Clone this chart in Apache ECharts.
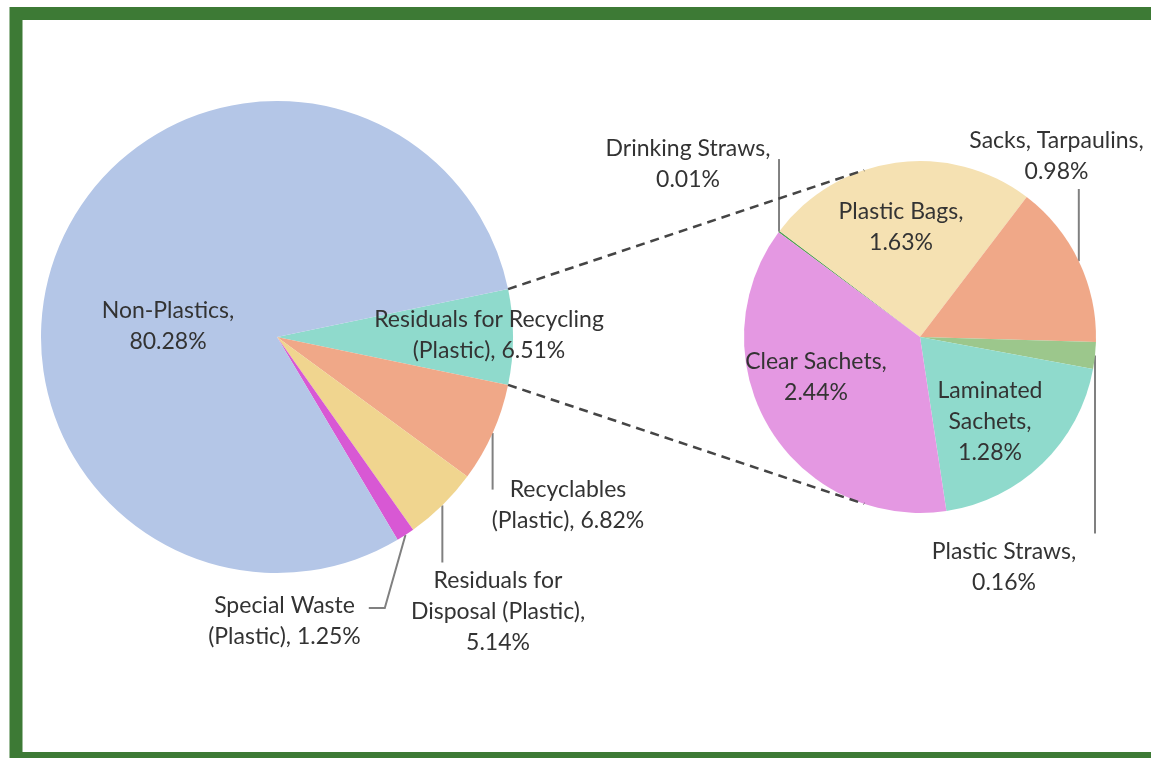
<!DOCTYPE html>
<html>
<head>
<meta charset="utf-8">
<script src="https://cdn.jsdelivr.net/npm/echarts@6/dist/echarts.min.js"></script>
<style>
  html, body { margin: 0; padding: 0; background: #ffffff; }
  #chart { width: 1151px; height: 758px; }
</style>
</head>
<body>
<div id="chart"></div>
<script>
// Overall waste composition, percent of total
const mainNames = [
  'Residuals for Recycling (Plastic)',
  'Recyclables (Plastic)',
  'Residuals for Disposal (Plastic)',
  'Special Waste (Plastic)',
  'Non-Plastics'
];
const mainValues = [6.51, 6.82, 5.14, 1.25, 80.28];

// Breakdown of the residuals for recycling, percent of total
const subNames = [
  'Drinking Straws',
  'Plastic Bags',
  'Sacks, Tarpaulins',
  'Plastic Straws',
  'Laminated Sachets',
  'Clear Sachets'
];
const subValues = [0.01, 1.63, 0.98, 0.16, 1.28, 2.44];

// ---- styling and layout ----
const mainColors = ['#8fdacc', '#f0a888', '#f0d58f', '#d858d4', '#b4c6e7'];
const subColors = ['#4f9f4f', '#f5e1b2', '#f0a888', '#9cc78c', '#8fdacc', '#e498e2'];

const FONT = 'Lato, "Open Sans", sans-serif';
const FONT_SIZE = 23;
const LINE_H = 31;
const TEXT_COLOR = '#333333';
const LEADER_COLOR = '#808080';

const MAIN = { cx: 277, cy: 337, r: 236 };
const SUB = { cx: 920, cy: 337, r: 176, startAngle: 143.5 };
// the split slice (first item) is centred on the 3 o'clock direction
const mainTotal = mainValues.reduce((a, b) => a + b, 0);
MAIN.startAngle = mainValues[0] / mainTotal * 360 / 2;

// label placement: offset of the label centre from the pie centre,
// words per line, and how the leader line reaches the label
const mainLabelLayout = [
  { dx: 212, dy: -2, wrap: [3, 2], pos: 'inside' },
  { dx: 291, dy: 168, wrap: [1, 2], pos: 'outside', leader: { mode: 'v', f: 0.3 } },
  { dx: 221, dy: 275, wrap: [2, 2, 1], pos: 'outside', leader: { mode: 'v', f: 0 } },
  { dx: 7.5, dy: 284.5, wrap: [2, 2], pos: 'outside', leader: { mode: 'side' } },
  { dx: -109, dy: -11, wrap: [1, 1], pos: 'inside' }
];
const subLabelLayout = [
  { dx: -232, dy: -172.5, wrap: [2, 1], pos: 'outside', leader: { mode: 'v', f: 0.38 } },
  { dx: -19, dy: -109.5, wrap: [2, 1], pos: 'inside' },
  { dx: 136.5, dy: -181, wrap: [2, 1], pos: 'outside', leader: { mode: 'v', f: 1 } },
  { dx: 84, dy: 230.5, wrap: [2, 1], pos: 'outside', leader: { mode: 'v', f: 0 } },
  { dx: 70, dy: 84.5, wrap: [1, 1, 1], pos: 'inside' },
  { dx: -104, dy: 40.5, wrap: [2, 1], pos: 'inside' }
];

function labelText(name, value, wrap) {
  const words = (name + ', ' + value.toFixed(2) + '%').split(' ');
  const lines = [];
  let k = 0;
  wrap.forEach(n => { lines.push(words.slice(k, k + n).join(' ')); k += n; });
  return lines.join('\n');
}

function buildData(names, values, colors, layout) {
  return names.map((name, i) => ({
    name: name,
    value: values[i],
    itemStyle: { color: colors[i] },
    label: { position: layout[i].pos },
    labelLine: { show: !!layout[i].leader }
  }));
}

// places every label and draws its leader from the rim at the slice's mid angle
function makeLabelLayout(geo, values, layout) {
  const total = values.reduce((a, b) => a + b, 0);
  return function (params) {
    const idx = params.dataIndex;
    const L = layout[idx];
    const x = geo.cx + L.dx;
    const y = geo.cy + L.dy;
    const out = { x: x, y: y, align: 'center', verticalAlign: 'middle' };
    if (L.leader) {
      let cum = 0;
      for (let i = 0; i < idx; i++) cum += values[i];
      const mid = (geo.startAngle - (cum + values[idx] / 2) / total * 360) * Math.PI / 180;
      const ax = geo.cx + geo.r * Math.cos(mid);
      const ay = geo.cy - geo.r * Math.sin(mid);
      const h = L.wrap.length * LINE_H;
      const w = params.labelRect.width;
      const top = y - h / 2;
      if (L.leader.mode === 'v') {
        let ey = top + L.leader.f * h;
        ey += ey > ay ? -3 : 2;
        out.labelLinePoints = [[ax, ay], [ax, (ay + ey) / 2], [ax, ey]];
      } else {
        const right = x + w / 2;
        const ly = top + LINE_H / 2 + 2;
        out.labelLinePoints = [[ax, ay], [right + 24, ly], [right + 8, ly]];
      }
    }
    return out;
  };
}

function pieSeries(geo, names, values, colors, layout) {
  return {
    type: 'pie',
    center: [geo.cx, geo.cy],
    radius: [0, geo.r],
    startAngle: geo.startAngle,
    clockwise: true,
    avoidLabelOverlap: false,
    silent: true,
    animation: false,
    itemStyle: { borderWidth: 0 },
    label: {
      show: true,
      color: TEXT_COLOR,
      fontFamily: FONT,
      fontSize: FONT_SIZE,
      lineHeight: LINE_H,
      textBorderWidth: 0,
      formatter: p => labelText(p.name, p.value, layout[p.dataIndex].wrap)
    },
    labelLine: {
      lineStyle: { color: LEADER_COLOR, width: 2 },
      length: 10,
      length2: 10
    },
    labelLayout: makeLabelLayout(geo, values, layout),
    emphasis: { disabled: true },
    data: buildData(names, values, colors, layout)
  };
}

// dashed connectors: from the split slice edges to the tangents of the second pie
function connectors() {
  const half = MAIN.startAngle * Math.PI / 180;
  const lines = [];
  [1, -1].forEach(sgn => {
    const px = MAIN.cx + MAIN.r * Math.cos(half);
    const py = MAIN.cy - sgn * MAIN.r * Math.sin(half);
    const vx = px - SUB.cx, vy = SUB.cy - py;
    const d = Math.hypot(vx, vy);
    const base = Math.atan2(vy, vx);
    const t = base - sgn * Math.acos(SUB.r / d);
    const qx = SUB.cx + SUB.r * Math.cos(t);
    const qy = SUB.cy - SUB.r * Math.sin(t);
    lines.push({
      type: 'line',
      silent: true,
      z: 10,
      shape: { x1: px, y1: py, x2: qx, y2: qy },
      style: { stroke: '#454545', lineWidth: 2.5, lineDash: [9, 6] }
    });
  });
  return lines;
}

const chart = echarts.init(document.getElementById('chart'), null, { renderer: 'canvas' });
chart.setOption({
  backgroundColor: '#ffffff',
  animation: false,
  graphic: [
    {
      type: 'rect',
      silent: true,
      z: 0,
      shape: { x: 16, y: 13.5, width: 1200, height: 745 },
      style: { fill: 'none', stroke: '#3d7a35', lineWidth: 13 }
    }
  ].concat(connectors()),
  series: [
    pieSeries(MAIN, mainNames, mainValues, mainColors, mainLabelLayout),
    pieSeries(SUB, subNames, subValues, subColors, subLabelLayout)
  ]
});
</script>
</body>
</html>
